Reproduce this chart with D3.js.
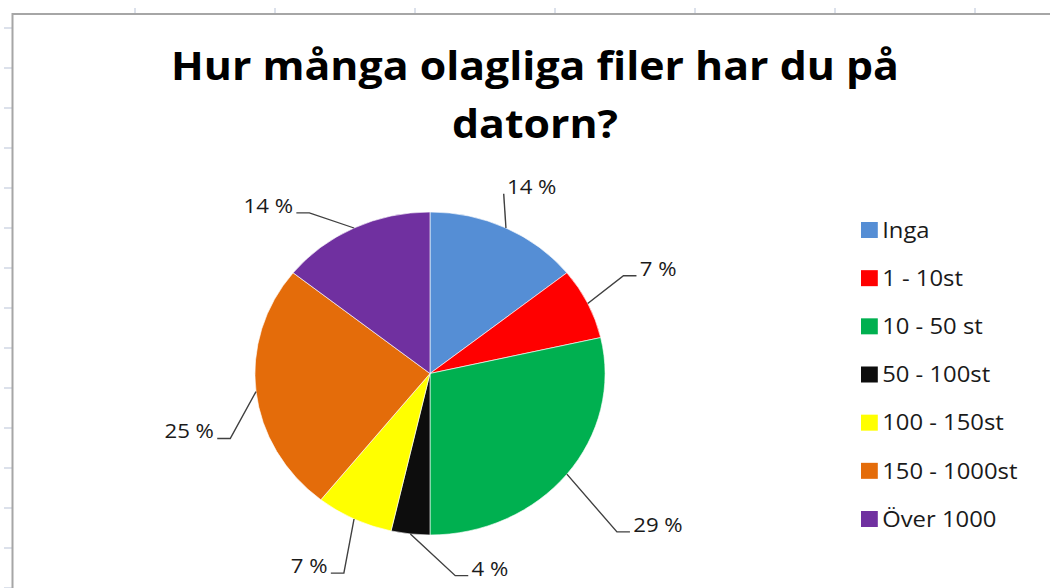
<!DOCTYPE html>
<html>
<head>
<meta charset="utf-8">
<script src="https://cdn.jsdelivr.net/npm/d3@7"></script>
<style>
  html, body { margin: 0; padding: 0; background: #fff; }
  svg { display: block; }
  text { font-family: "Open Sans", "Liberation Sans", sans-serif; fill: #1a1a1a; }
</style>
</head>
<body>
<div id="chart"></div>
<script>
// survey answers (number of respondents per group)
const categories = ["Inga", "1 - 10st", "10 - 50 st", "50 - 100st", "100 - 150st", "150 - 1000st", "Över 1000"];
const counts = [4, 2, 8, 1, 2, 7, 4];
const colours = ["#558ed5", "#ff0000", "#00b050", "#0d0d0d", "#ffff00", "#e46c0a", "#7030a0"];
const titleLines = ["Hur många olagliga filer har du på", "datorn?"];

// where each percent label sits: angle shift from slice middle (deg), distance in radii
const labelLayout = [[-5, 1.19], [-3, 1.26], [4, 1.45], [-13, 1.26], [-4, 1.33], [-13, 1.21], [-9, 1.21]];

const width = 1050, height = 588;
// the screenshot is stretched sideways a bit, so draw in a narrower space and scale x
const sx = 1.084;

const svg = d3.select("#chart").append("svg")
    .attr("width", width)
    .attr("height", height);

// spreadsheet bits behind the chart
const gridTicksY = d3.range(28, height + 1, 40);
const gridTicksX = d3.range(135, width, 140);
svg.selectAll(".tick-y")
    .data(gridTicksY)
    .join("line")
    .attr("x1", 4).attr("x2", 12)
    .attr("y1", d => d).attr("y2", d => d)
    .attr("stroke", "#d0d7e5").attr("stroke-width", 1.5);
svg.selectAll(".tick-x")
    .data(gridTicksX)
    .join("line")
    .attr("x1", d => d).attr("x2", d => d)
    .attr("y1", 8).attr("y2", 13)
    .attr("stroke", "#d0d7e5").attr("stroke-width", 1.5);
svg.append("path")
    .attr("d", `M12.5,${height} V14 H${width}`)
    .attr("fill", "none")
    .attr("stroke", "#a6a6a6")
    .attr("stroke-width", 2);

const root = svg.append("g").attr("transform", `scale(${sx},1)`);

// title
root.append("g").selectAll("text")
    .data(titleLines)
    .join("text")
    .attr("x", 535 / sx)
    .attr("y", (d, i) => 80 + i * 58)
    .attr("text-anchor", "middle")
    .style("font-weight", "bold")
    .style("font-size", "39.5px")
    .style("fill", "#000")
    .text(d => d);

// pie
const cx = 430 / sx, cy = 373.5, radius = 161.5;
const total = d3.sum(counts);
const pie = d3.pie().sort(null).value(d => d)(counts);
const arc = d3.arc().innerRadius(0).outerRadius(radius);

const plot = root.append("g").attr("transform", `translate(${cx},${cy})`);

plot.selectAll("path.slice")
    .data(pie)
    .join("path")
    .attr("class", "slice")
    .attr("d", arc)
    .attr("fill", (d, i) => colours[i])
    .attr("stroke", "#fff")
    .attr("stroke-width", 0.6);

// leader lines and percent labels
const pct = v => `${Math.round(v / total * 100)} %`;
const mid = d => (d.startAngle + d.endAngle) / 2;
const onRing = (a, k) => [Math.sin(a) * radius * k, -Math.cos(a) * radius * k];
const labelAngle = (d, i) => mid(d) + labelLayout[i][0] * Math.PI / 180;
const side = (d, i) => Math.sin(labelAngle(d, i)) >= 0 ? 1 : -1;
const elbow = (d, i) => onRing(labelAngle(d, i), labelLayout[i][1]);
// the top label sits right on its leader, without a flat tail
const tail = (d, i) => i === 0 ? 0 : 12;

const labels = plot.selectAll("g.label")
    .data(pie)
    .join("g")
    .attr("class", "label");

labels.append("polyline")
    .attr("fill", "none")
    .attr("stroke", "#404040")
    .attr("stroke-width", 1.3)
    .attr("points", (d, i) => {
        const p0 = onRing(mid(d), 1);
        const p1 = elbow(d, i);
        const p2 = [p1[0] + side(d, i) * tail(d, i), p1[1]];
        return [p0, p1, p2].map(p => p.join(",")).join(" ");
    });

labels.append("text")
    .attr("x", (d, i) => elbow(d, i)[0] + side(d, i) * (tail(d, i) + 3))
    .attr("y", (d, i) => elbow(d, i)[1])
    .attr("text-anchor", (d, i) => side(d, i) > 0 ? "start" : "end")
    .style("font-size", "20.5px")
    .text(d => pct(d.value));

// legend
const legendY = d3.scalePoint()
    .domain(categories)
    .range([230, 519]);

const legend = root.append("g").attr("class", "legend");
const items = legend.selectAll("g")
    .data(categories)
    .join("g")
    .attr("transform", d => `translate(${861 / sx},${legendY(d)})`);

items.append("rect")
    .attr("x", 0)
    .attr("y", -8)
    .attr("width", 15.5)
    .attr("height", 16)
    .attr("fill", (d, i) => colours[i]);

items.append("text")
    .attr("x", 19.5)
    .attr("y", 0)
    .attr("dy", "0.35em")
    .style("font-size", "22px")
    .text(d => d);
</script>
</body>
</html>
